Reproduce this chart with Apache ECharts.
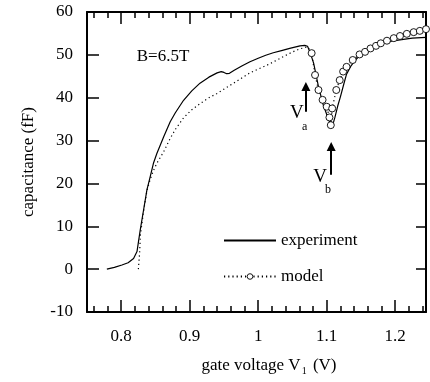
<!DOCTYPE html>
<html>
<head>
<meta charset="utf-8">
<script src="https://cdn.jsdelivr.net/npm/echarts@6/dist/echarts.min.js"></script>
<style>
  html, body { margin: 0; padding: 0; background: #fff; }
  #chart { width: 430px; height: 382px; }
</style>
</head>
<body>
<div id="chart"></div>
<script>
// 实验曲线 (gate voltage, capacitance)
const experimentPoints = [
  [0.779, 0], [0.79, 0.4], [0.801, 0.97], [0.81, 1.5], [0.818, 2.5], [0.823, 4.1],
  [0.8277, 9.1], [0.8326, 13.8], [0.8375, 18.5], [0.8423, 21.6], [0.847, 24.7], [0.852, 27],
  [0.862, 30.9], [0.8715, 34.4], [0.879, 36.5], [0.891, 39.4], [0.903, 41.6],
  [0.915, 43.4], [0.928, 44.8], [0.94, 45.8], [0.946, 46.1], [0.95, 45.9], [0.954, 45.6],
  [0.958, 45.7], [0.965, 46.4], [0.976, 47.4], [0.988, 48.4], [1.0, 49.2], [1.011, 49.9],
  [1.022, 50.5], [1.034, 51.0], [1.046, 51.5], [1.061, 52.1], [1.068, 52.2], [1.072, 52.0],
  [1.076, 50.5], [1.081, 48], [1.088, 42.6], [1.095, 38.3], [1.103, 34.8], [1.108, 33.2],
  [1.112, 35.4], [1.116, 38], [1.12, 40.2], [1.125, 43.2], [1.129, 45.5], [1.135, 47.3],
  [1.142, 48.8], [1.15, 50.1], [1.159, 51.1], [1.17, 52.0], [1.183, 52.7], [1.195, 53.2],
  [1.207, 53.5], [1.225, 53.9], [1.245, 54.1]
]

// 模型曲线（无圆点部分）
const modelLinePoints = [
  [0.825, 0], [0.8268, 3.7], [0.828, 8], [0.8326, 13.5], [0.8375, 18.3], [0.842, 20.8],
  [0.847, 23], [0.852, 24.7], [0.862, 27.4], [0.8715, 30.5], [0.879, 32.6], [0.891, 35.3],
  [0.903, 37.2], [0.915, 38.6], [0.928, 40], [0.94, 41], [0.952, 42.2], [0.964, 43.4],
  [0.976, 44.6], [0.988, 45.8], [1.0, 46.7], [1.013, 47.6], [1.025, 48.6], [1.037, 49.6],
  [1.049, 50.6], [1.061, 51.4], [1.072, 51.9]
]

// 模型曲线（圆点）
const modelCirclePoints = [
  [1.078, 50.4], [1.083, 45.3], [1.088, 41.8], [1.094, 39.5], [1.100, 37.9], [1.104, 35.4],
  [1.106, 33.6], [1.108, 37.5], [1.114, 41.8], [1.119, 44.1], [1.124, 46.1], [1.129, 47.2],
  [1.138, 48.8], [1.148, 50.1], [1.156, 50.7], [1.164, 51.5], [1.172, 52.1], [1.179, 52.7],
  [1.188, 53.3], [1.198, 53.9], [1.207, 54.4], [1.217, 54.9], [1.227, 55.3], [1.236, 55.6],
  [1.245, 56.0]
]

const xMajorTicks = [0.8, 0.9, 1, 1.1, 1.2]
const xMinorTicks = [0.76, 0.78, 0.82, 0.84, 0.86, 0.88, 0.92, 0.94, 0.96, 0.98,
  1.02, 1.04, 1.06, 1.08, 1.12, 1.14, 1.16, 1.18, 1.22, 1.24]

// 箭头与标注
const arrowVa = [[1.0696, 36.7], [1.0696, 42.6]]
const arrowVb = [[1.1066, 22.0], [1.1066, 28.6]]
const annotations = [
  { text: 'B=6.5T', coord: [0.861, 49.5], size: 17 },
  { text: 'V', coord: [1.0565, 36.4], size: 19 },
  { text: 'a', coord: [1.0677, 33.3], size: 12 },
  { text: 'V', coord: [1.0905, 21.5], size: 19 },
  { text: 'b', coord: [1.1018, 18.5], size: 12 }
]

const FONT = 'Liberation Serif'
const chart = echarts.init(document.getElementById('chart'))

const baseX = {
  type: 'value',
  min: 0.75,
  max: 1.245,
  splitLine: { show: false },
  axisLine: { onZero: false, lineStyle: { color: '#000', width: 2 } },
}

const option = {
  backgroundColor: '#fff',
  animation: false,
  textStyle: { fontFamily: FONT, color: '#000' },
  grid: { left: 87, right: 4, top: 12, bottom: 70, containLabel: false, outerBoundsMode: 'none' },
  legend: {
    data: [
      { name: 'experiment', itemStyle: { opacity: 0 } },
      { name: 'model', itemStyle: { color: '#fff', borderColor: '#000', borderWidth: 0.9 } },
    ],
    orient: 'vertical',
    left: 223,
    top: 232,
    padding: 0,
    itemWidth: 52,
    itemHeight: 7,
    itemGap: 19,
    textStyle: { fontFamily: FONT, fontSize: 17, color: '#000' },
  },
  xAxis: [
    {
      ...baseX,
      position: 'bottom',
      axisTick: { inside: true, length: 12, customValues: xMajorTicks, lineStyle: { color: '#000', width: 1.5 } },
      axisLabel: { customValues: xMajorTicks, margin: 16, fontSize: 17, color: '#000', fontFamily: FONT },
      name: '{n|gate voltage V}{s|1}{n| (V)}',
      nameLocation: 'middle',
      nameGap: 44,
      nameTextStyle: {
        padding: [0, 0, 0, 25],
        rich: {
          n: { fontSize: 17, fontFamily: FONT, color: '#000' },
          s: { fontSize: 10, fontFamily: FONT, color: '#000', padding: [10, 2, 0, 1] },
        },
      },
    },
    {
      ...baseX,
      position: 'bottom',
      axisLine: { show: false, onZero: false },
      axisTick: { inside: true, length: 6, customValues: xMinorTicks, lineStyle: { color: '#000', width: 1.5 } },
      axisLabel: { show: false },
    },
    {
      ...baseX,
      position: 'top',
      axisTick: { inside: true, length: 12, customValues: xMajorTicks, lineStyle: { color: '#000', width: 1.5 } },
      axisLabel: { show: false },
    },
    {
      ...baseX,
      position: 'top',
      axisLine: { show: false, onZero: false },
      axisTick: { inside: true, length: 6, customValues: xMinorTicks, lineStyle: { color: '#000', width: 1.5 } },
      axisLabel: { show: false },
    },
  ],
  yAxis: [
    {
      type: 'value',
      position: 'left',
      min: -10,
      max: 60,
      interval: 10,
      splitLine: { show: false },
      axisLine: { show: true, onZero: false, lineStyle: { color: '#000', width: 2 } },
      axisTick: { show: true, inside: true, length: 12, lineStyle: { color: '#000', width: 1.5 } },
      axisLabel: { margin: 14, fontSize: 17, color: '#000', fontFamily: FONT },
      name: 'capacitance (fF)',
      nameLocation: 'middle',
      nameRotate: 90,
      nameGap: 50,
      nameTextStyle: { fontSize: 17, fontFamily: FONT, color: '#000' },
    },
    {
      type: 'value',
      position: 'right',
      min: -10,
      max: 60,
      interval: 10,
      splitLine: { show: false },
      axisLine: { show: true, onZero: false, lineStyle: { color: '#000', width: 2 } },
      axisTick: { show: true, inside: true, length: 10, lineStyle: { color: '#000', width: 1.5 } },
      axisLabel: { show: false },
    },
  ],
  series: [
    {
      name: 'experiment',
      type: 'line',
      xAxisIndex: 0,
      yAxisIndex: 0,
      symbol: 'none',
      data: experimentPoints,
      lineStyle: { color: '#000', width: 1.2 },
      itemStyle: { color: '#000' },
      markLine: {
        silent: true,
        symbol: ['none', 'triangle'],
        symbolSize: 9,
        lineStyle: { color: '#000', width: 2, type: 'solid' },
        label: { show: false },
        data: [
          [{ coord: arrowVa[0] }, { coord: arrowVa[1] }],
          [{ coord: arrowVb[0] }, { coord: arrowVb[1] }],
        ],
      },
      markPoint: {
        silent: true,
        symbol: 'circle',
        symbolSize: 0,
        data: annotations.map(a => ({
          coord: a.coord,
          label: { show: true, position: 'inside', formatter: a.text, fontSize: a.size, fontFamily: FONT, color: '#000' },
        })),
      },
    },
    {
      name: 'model',
      type: 'line',
      xAxisIndex: 0,
      yAxisIndex: 0,
      symbol: 'circle',
      symbolSize: 7,
      showAllSymbol: true,
      data: modelLinePoints.map(p => ({ value: p, symbol: 'none' }))
        .concat(modelCirclePoints.map(p => ({ value: p }))),
      lineStyle: { color: '#000', width: 1.2, type: [1.2, 3] },
      itemStyle: { color: '#fff', borderColor: '#000', borderWidth: 0.9 },
    },
  ],
}

chart.setOption(option)
</script>
</body>
</html>
